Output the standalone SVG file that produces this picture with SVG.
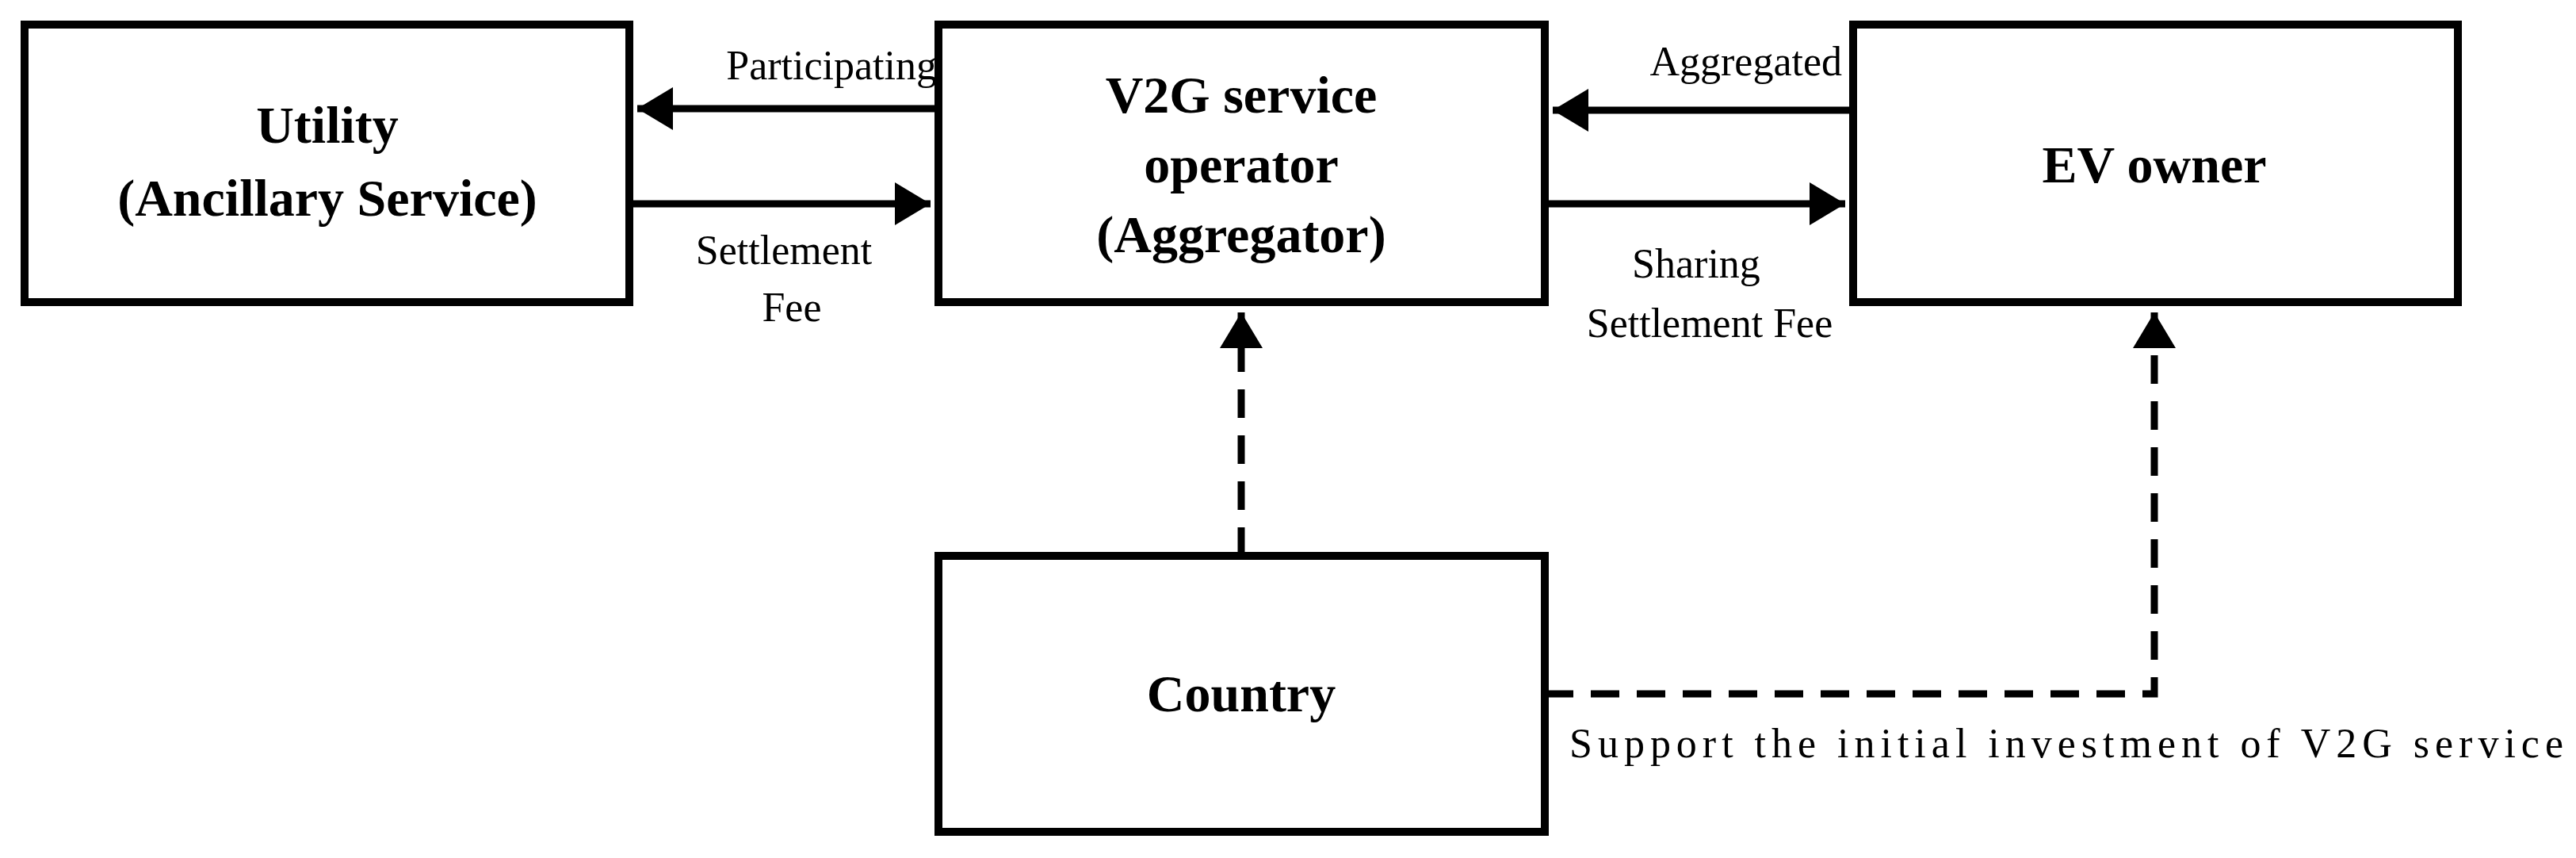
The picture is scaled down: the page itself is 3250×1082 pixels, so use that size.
<svg xmlns="http://www.w3.org/2000/svg" width="3250" height="1082" viewBox="0 0 3250 1082">
<style>
.box{fill:#fff;stroke:#000;stroke-width:10}
.t{font-family:"Liberation Serif",serif;font-weight:bold;font-size:66px;text-anchor:middle}
.l{font-family:"Liberation Serif",serif;font-size:52px}
.c{stroke:#000;stroke-width:9;fill:none}
.d{stroke-dasharray:36,22}
</style>
<defs>
<marker id="a" markerWidth="6" markerHeight="6" refX="5" refY="3" orient="auto" markerUnits="strokeWidth"><path d="M0,0L5,3L0,6z" fill="#000"/></marker>
</defs>
<g id="utility"><rect class="box" x="31" y="31" width="763" height="350"/><text class="t" x="413" y="180">Utility</text><text class="t" x="413" y="272">(Ancillary Service)</text></g>
<g id="v2g"><rect class="box" x="1184" y="31" width="765" height="350"/><text class="t" x="1566" y="142">V2G service</text><text class="t" x="1566" y="230">operator</text><text class="t" x="1566" y="318">(Aggregator)</text></g>
<g id="ev"><rect class="box" x="2338" y="31" width="763" height="350"/><text class="t" x="2718" y="230">EV owner</text></g>
<g id="country"><rect class="box" x="1184" y="701" width="765" height="348"/><text class="t" x="1566" y="897">Country</text></g>
<g id="connectors">
<line class="c" x1="1184" y1="137" x2="804" y2="137" marker-end="url(#a)"/>
<line class="c" x1="794" y1="257" x2="1174" y2="257" marker-end="url(#a)"/>
<line class="c" x1="2338" y1="139" x2="1959" y2="139" marker-end="url(#a)"/>
<line class="c" x1="1949" y1="257" x2="2328" y2="257" marker-end="url(#a)"/>
<line class="c d" x1="1566" y1="701" x2="1566" y2="394" marker-end="url(#a)"/>
<polyline class="c d" points="1949,875 2718,875 2718,394" marker-end="url(#a)"/>
</g>
<g id="labels">
<text class="l" x="1182" y="100" text-anchor="end">Participating</text>
<text class="l" x="989" y="333" text-anchor="middle">Settlement</text>
<text class="l" x="999" y="405" text-anchor="middle">Fee</text>
<text class="l" x="2324" y="95" text-anchor="end">Aggregated</text>
<text class="l" x="2140" y="350" text-anchor="middle">Sharing</text>
<text class="l" x="2157" y="425" text-anchor="middle">Settlement Fee</text>
<text class="l" x="1980" y="955" textLength="1254">Support the initial investment of V2G service</text>
</g>
</svg>
